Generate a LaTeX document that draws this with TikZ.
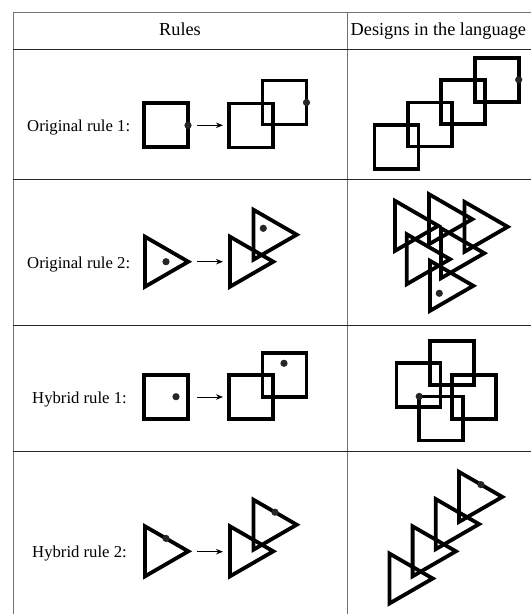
\documentclass[tikz,border=0pt]{standalone}
\usepackage{fontspec}
\setmainfont{Liberation Serif}
\usetikzlibrary{arrows.meta}
\begin{document}
\begin{tikzpicture}[x=1pt,y=-1pt,
  fig/.style={line width=3.8pt, line join=miter, draw=black},
  vline/.style={line width=1pt, draw=black!55},
  hline/.style={line width=1pt, draw=black!85},
  dotc/.style={fill=black!85},
  ruleArrow/.style={line width=0.9pt, -{Stealth[length=7pt,width=5.5pt]}},
  lbl/.style={anchor=base west, inner sep=0pt, font=\fontsize{16.7pt}{20pt}\selectfont},
  hdr/.style={anchor=base, inner sep=0pt, font=\fontsize{18.3pt}{22pt}\selectfont},
  sq/.pic={\draw[fig] (-22,-22) rectangle (22,22);},
  tri/.pic={\draw[fig] (0,-25) -- (0,25) -- (43.3,0) -- cycle;}
]
\useasboundingbox (0,0) rectangle (531,614);
% table
\draw[vline] (13.2,12.2) -- (13.2,614);
\draw[vline] (347,12.2) -- (347,614);
\draw[vline] (13.2,12.2) -- (531,12.2);
\draw[hline] (13.2,49) -- (531,49);
\draw[hline] (13.2,179.5) -- (531,179.5);
\draw[hline] (13.2,325) -- (531,325);
\draw[hline] (13.2,451) -- (531,451);
% header
\node[hdr] (hRules) at (180,35.5) {Rules};
\node[hdr, anchor=base west] (hDesigns) at (350.5,35.5) {Designs in the language};
% labels
\node[lbl] (l1) at (27,131) {Original rule 1:};
\node[lbl] (l2) at (27,268) {Original rule 2:};
\node[lbl] (l3) at (32,403) {Hybrid rule 1:};
\node[lbl] (l4) at (32,557) {Hybrid rule 2:};

% ---------- row 1
\pic at (166,125.3) {sq};
\fill[dotc] (188,125.3) circle[radius=3.6pt];
\coordinate (a1s) at (197,125.3);
\coordinate (a1e) at (223,125.3);
\draw[ruleArrow] (a1s) -- (a1e);
\pic at (251.3,125.5) {sq};
\pic at (284.5,102.5) {sq};
\fill[dotc] (306.5,102.5) circle[radius=3.6pt];
% design 1
\pic at (396.5,146.7) {sq};
\pic at (429.9,124.4) {sq};
\pic at (463.3,102.1) {sq};
\pic at (496.7,79.8) {sq};
\fill[dotc] (518.7,79.8) circle[radius=3.6pt];

% ---------- row 2
\pic at (145,261.7) {tri};
\fill[dotc] (166,261.7) circle[radius=3.6pt];
\coordinate (a2s) at (197,261.7);
\coordinate (a2e) at (223,261.7);
\draw[ruleArrow] (a2s) -- (a2e);
\pic at (230,261.7) {tri};
\pic at (253.4,234.7) {tri};
\fill[dotc] (263.3,228.3) circle[radius=3.6pt];
% design 2
\pic at (395,225.8) {tri};
\pic at (429,219.2) {tri};
\pic at (464.4,226.8) {tri};
\pic at (406.7,259.2) {tri};
\pic at (441,253.2) {tri};
\pic at (430,285.8) {tri};
\fill[dotc] (439.3,293.3) circle[radius=3.6pt];

% ---------- row 3
\pic at (165.9,396.7) {sq};
\fill[dotc] (176,396.7) circle[radius=3.6pt];
\coordinate (a3s) at (197,397);
\coordinate (a3e) at (223,397);
\draw[ruleArrow] (a3s) -- (a3e);
\pic at (250.9,396.7) {sq};
\pic at (284.5,374.9) {sq};
\fill[dotc] (284,363.3) circle[radius=3.6pt];
% design 3
\pic at (418.4,385) {sq};
\pic at (452.2,362.7) {sq};
\pic at (473.9,397) {sq};
\pic at (441.2,418.4) {sq};
\fill[dotc] (419.2,396.4) circle[radius=3.6pt];

% ---------- row 4
\pic at (145,551.3) {tri};
\fill[dotc] (166,538.4) circle[radius=3.6pt];
\coordinate (a4s) at (197,551.7);
\coordinate (a4e) at (223,551.7);
\draw[ruleArrow] (a4s) -- (a4e);
\pic at (230,551.3) {tri};
\pic at (253.4,524.7) {tri};
\fill[dotc] (275,512.2) circle[radius=3.6pt];
% design 4
\pic at (389.4,578.5) {tri};
\pic at (412.6,551.3) {tri};
\pic at (435.8,524.1) {tri};
\pic at (459,496.9) {tri};
\fill[dotc] (480.9,484.6) circle[radius=3.6pt];
\end{tikzpicture}
\end{document}
